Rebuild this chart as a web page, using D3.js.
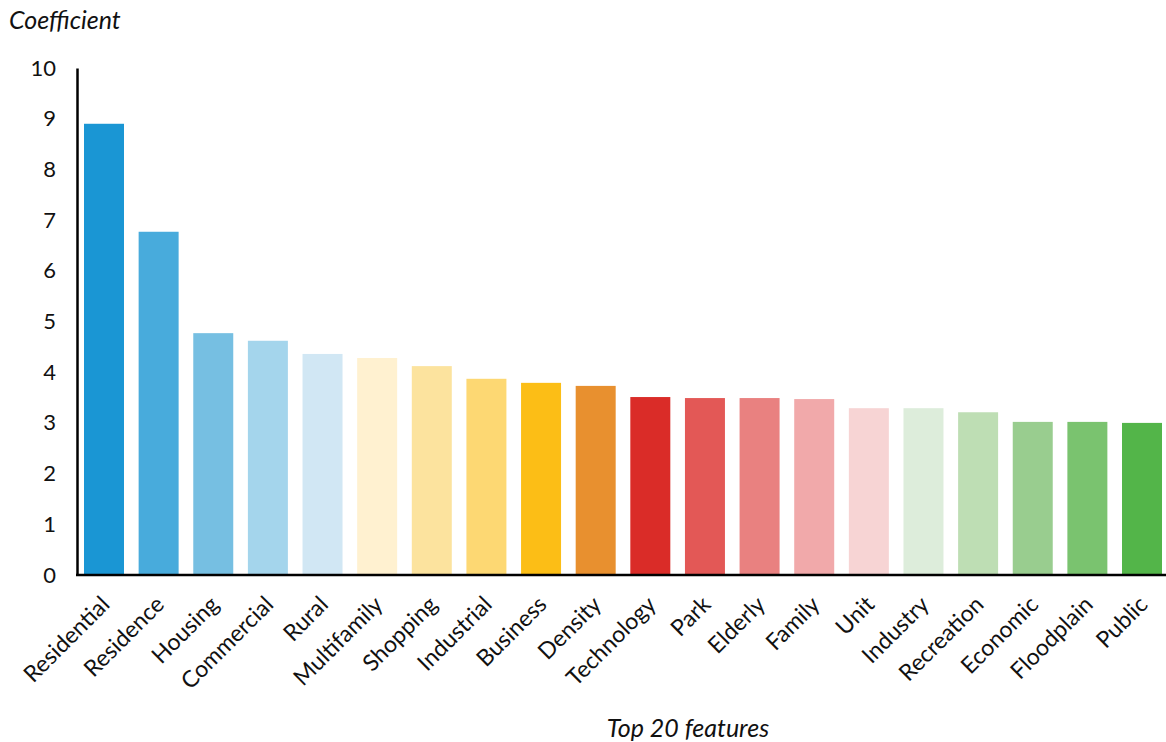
<!DOCTYPE html>
<html><head><meta charset="utf-8">
<script src="https://cdn.jsdelivr.net/npm/d3@7"></script>
<style>body{margin:0;background:#fff;} text{font-family:Lato,"Open Sans",sans-serif;}</style>
</head><body><svg id="c" width="1166" height="742"></svg>
<script>
const categories = ["Residential","Residence","Housing","Commercial","Rural","Multifamily","Shopping","Industrial","Business","Density","Technology","Park","Elderly","Family","Unit","Industry","Recreation","Economic","Floodplain","Public"];
const values = [8.9,6.77,4.77,4.62,4.36,4.28,4.12,3.87,3.79,3.73,3.51,3.49,3.49,3.47,3.29,3.29,3.21,3.02,3.02,3.0];
const colors = ["#1a96d4","#48abdc","#76bfe2","#a4d5ec","#d1e7f4","#fff1d0","#fce39e","#fdd873","#fcbe16","#e8902f","#da2c28","#e35856","#e98180","#f1a9aa","#f7d4d4","#ddeddb","#bedeb4","#99cd8f","#7ac36f","#53b549"];
const yTicks = [0,1,2,3,4,5,6,7,8,9,10];

const svg = d3.select("#c");
const x0 = 77, x1 = 1166, yBottom = 575, yTop = 68;
const x = d3.scaleBand().domain(categories).range([84, 1162]).paddingInner(0.268).paddingOuter(0);
const y = d3.scaleLinear().domain([0,10]).range([yBottom, yTop]);

svg.selectAll("rect.bar").data(categories).join("rect")
  .attr("class","bar")
  .attr("x", d => x(d)).attr("width", x.bandwidth())
  .attr("y", (d,i) => y(values[i])).attr("height", (d,i) => yBottom - y(values[i]))
  .attr("fill", (d,i) => colors[i]);

const yAxis = svg.append("g").attr("transform", `translate(${x0},0)`)
  .call(d3.axisLeft(y).tickValues(yTicks).tickSize(0).tickPadding(21));
yAxis.select(".domain").attr("stroke","#000").attr("stroke-width",2.5);
yAxis.selectAll("text").attr("font-size",22).attr("fill","#111").style("font-family","Lato");

const xAxis = svg.append("g").attr("transform", `translate(0,${yBottom})`)
  .call(d3.axisBottom(x).tickSize(0).tickSizeOuter(0));
xAxis.select(".domain").attr("d", `M${x0-1},0H${x1}`).attr("stroke","#000").attr("stroke-width",2.5);
xAxis.selectAll("text")
  .attr("font-size",23).attr("fill","#111").style("font-family","Lato")
  .attr("text-anchor","end").attr("dy",null).attr("y",0)
  .attr("transform","translate(7,31) rotate(-45)");

svg.append("text").attr("x",9).attr("y",29).attr("font-size",25).attr("font-style","italic").attr("fill","#111").text("Coefficient");
svg.append("text").attr("x",688).attr("y",737).attr("text-anchor","middle").attr("font-size",25).attr("font-style","italic").attr("fill","#111").text("Top 20 features");
</script></body></html>
